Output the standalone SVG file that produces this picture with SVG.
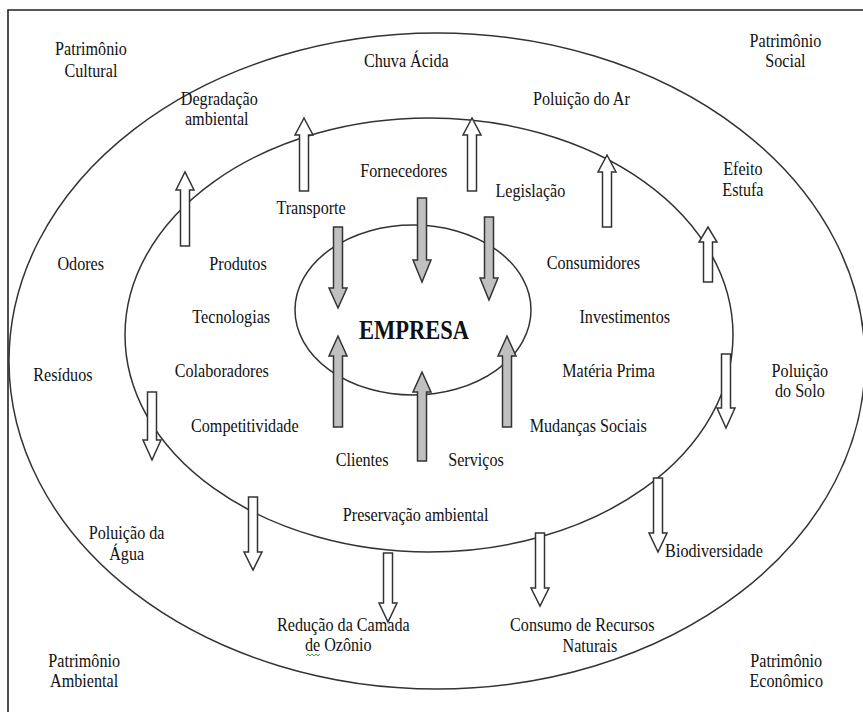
<svg xmlns="http://www.w3.org/2000/svg" width="863" height="712" viewBox="0 0 863 712">
<style>
.frame{fill:none;stroke:#222;stroke-width:1.6}
.ring{fill:none;stroke:#333;stroke-width:1.5}
.lbl{font-family:"Liberation Serif","Times New Roman",serif;font-size:19px;fill:#111;text-anchor:middle}
.big{font-family:"Liberation Serif","Times New Roman",serif;font-size:26.5px;font-weight:bold;fill:#111;text-anchor:middle}
.wa{fill:#fff;stroke:#333;stroke-width:1.5;stroke-linejoin:miter}
.ga{fill:#c0c0c0;stroke:#333;stroke-width:1.5;stroke-linejoin:miter}
</style>
<rect width="863" height="712" fill="#fff"/>
<path class="frame" d="M8,712 V10 H863"/>
<g id="rings">
<ellipse id="outer" class="ring" cx="437" cy="361" rx="428" ry="328"/>
<ellipse id="middle" class="ring" cx="429" cy="335" rx="304" ry="217"/>
<ellipse id="inner" class="ring" cx="413" cy="310" rx="118" ry="85"/>
</g>
<g id="labels" transform="scale(0.85 1)">
<g id="patrimonio-cultural"><text class="lbl" x="107" y="55">Patrimônio</text><text class="lbl" x="107" y="77">Cultural</text></g>
<g id="chuva-acida"><text class="lbl" x="478" y="67">Chuva Ácida</text></g>
<g id="patrimonio-social"><text class="lbl" x="924" y="47">Patrimônio</text><text class="lbl" x="924" y="67">Social</text></g>
<g id="degradacao"><text class="lbl" x="258" y="105">Degradação</text><text class="lbl" x="255" y="125">ambiental</text></g>
<g id="poluicao-ar"><text class="lbl" x="684" y="105">Poluição do Ar</text></g>
<g id="fornecedores"><text class="lbl" x="475" y="177">Fornecedores</text></g>
<g id="legislacao"><text class="lbl" x="624" y="197">Legislação</text></g>
<g id="efeito-estufa"><text class="lbl" x="874" y="175">Efeito</text><text class="lbl" x="874" y="196">Estufa</text></g>
<g id="transporte"><text class="lbl" x="366" y="214">Transporte</text></g>
<g id="odores"><text class="lbl" x="95" y="270">Odores</text></g>
<g id="produtos"><text class="lbl" x="280" y="270">Produtos</text></g>
<g id="consumidores"><text class="lbl" x="698" y="269">Consumidores</text></g>
<g id="tecnologias"><text class="lbl" x="272" y="323">Tecnologias</text></g>
<g id="empresa"><text class="big" x="487" y="339">EMPRESA</text></g>
<g id="investimentos"><text class="lbl" x="735" y="323">Investimentos</text></g>
<g id="residuos"><text class="lbl" x="74" y="381">Resíduos</text></g>
<g id="colaboradores"><text class="lbl" x="261" y="377">Colaboradores</text></g>
<g id="materia-prima"><text class="lbl" x="716" y="377">Matéria Prima</text></g>
<g id="poluicao-solo"><text class="lbl" x="941" y="377">Poluição</text><text class="lbl" x="941" y="397">do Solo</text></g>
<g id="competitividade"><text class="lbl" x="288" y="432">Competitividade</text></g>
<g id="mudancas-sociais"><text class="lbl" x="692" y="432">Mudanças Sociais</text></g>
<g id="clientes"><text class="lbl" x="426" y="466">Clientes</text></g>
<g id="servicos"><text class="lbl" x="560" y="466">Serviços</text></g>
<g id="preservacao"><text class="lbl" x="489" y="521">Preservação ambiental</text></g>
<g id="poluicao-agua"><text class="lbl" x="149" y="539">Poluição da</text><text class="lbl" x="149" y="560">Água</text></g>
<g id="biodiversidade"><text class="lbl" x="840" y="557">Biodiversidade</text></g>
<g id="ozonio"><text class="lbl" x="404" y="631">Redução da Camada</text><text class="lbl" x="398" y="651">de Ozônio</text></g>
<g id="recursos"><text class="lbl" x="685" y="631">Consumo de Recursos</text><text class="lbl" x="694" y="652">Naturais</text></g>
<g id="patrimonio-ambiental"><text class="lbl" x="99" y="667">Patrimônio</text><text class="lbl" x="99" y="687">Ambiental</text></g>
<g id="patrimonio-economico"><text class="lbl" x="925" y="667">Patrimônio</text><text class="lbl" x="925" y="687">Econômico</text></g>
</g>
<path d="M306,656 l2,-2 l2,2 l2,-2 l2,2 l2,-2 l2,2 l2,-2" fill="none" stroke="#3a3" stroke-width="1"/>
<g id="connectors">
<polygon class="ga" points="333.5,227 333.5,288 329,288 338,308 347,288 342.5,288 342.5,227"/>
<polygon class="ga" points="417.5,198 417.5,260 413,260 422,282 431,260 426.5,260 426.5,198"/>
<polygon class="ga" points="484.5,217 484.5,278 480,278 489,300 498,278 493.5,278 493.5,217"/>
<polygon class="ga" points="333.5,427 333.5,356 329,356 338,336 347,356 342.5,356 342.5,427"/>
<polygon class="ga" points="417.5,461 417.5,392 413,392 422,372 431,392 426.5,392 426.5,461"/>
<polygon class="ga" points="502.5,427 502.5,356 498,356 507,336 516,356 511.5,356 511.5,427"/>
<polygon class="wa" points="180.5,246 180.5,190 176,190 185,172 194,190 189.5,190 189.5,246"/>
<polygon class="wa" points="299.5,191 299.5,135 295,135 304,118 313,135 308.5,135 308.5,191"/>
<polygon class="wa" points="467.5,191 467.5,135 463,135 472,118 481,135 476.5,135 476.5,191"/>
<polygon class="wa" points="602.5,227 602.5,172 598,172 607,155 616,172 611.5,172 611.5,227"/>
<polygon class="wa" points="703.5,282 703.5,242 699,242 708,227 717,242 712.5,242 712.5,282"/>
<polygon class="wa" points="721.5,354 721.5,408 717,408 726,428 735,408 730.5,408 730.5,354"/>
<polygon class="wa" points="147.5,392 147.5,440 143,440 152,460 161,440 156.5,440 156.5,392"/>
<polygon class="wa" points="248.5,497 248.5,552 244,552 253,570 262,552 257.5,552 257.5,497"/>
<polygon class="wa" points="383.5,553 383.5,603 379,603 388,622 397,603 392.5,603 392.5,553"/>
<polygon class="wa" points="535.5,533 535.5,588 531,588 540,606 549,588 544.5,588 544.5,533"/>
<polygon class="wa" points="653.5,478 653.5,533 649,533 658,552 667,533 662.5,533 662.5,478"/>
</g>
</svg>
